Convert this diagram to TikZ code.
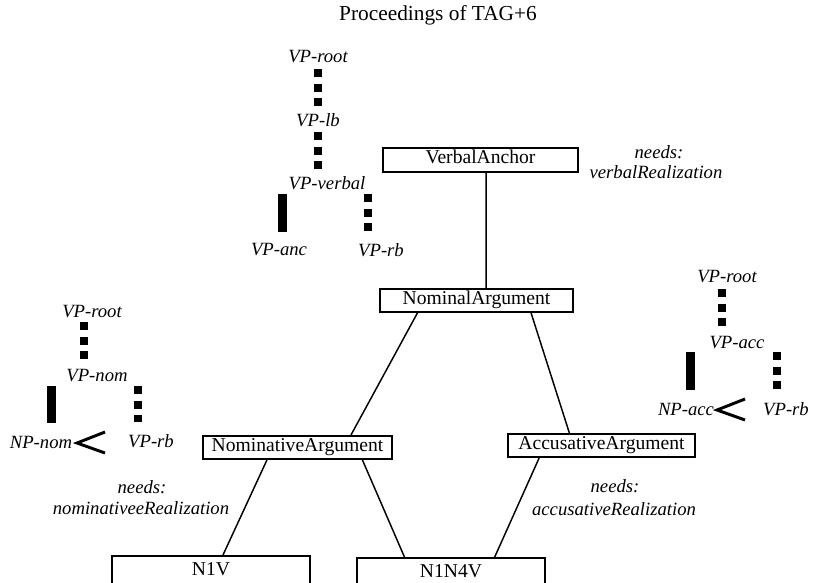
\documentclass[tikz,border=0pt]{standalone}
\usepackage{fontspec}
\setmainfont{Liberation Serif}
\usetikzlibrary{calc}
\begin{document}
\begin{tikzpicture}[x=0.75pt,y=-0.75pt,
  box/.style={draw, line width=1.5pt, inner sep=0pt, text height=9.7pt, text depth=3.2pt,
              font=\fontsize{14.7pt}{16pt}\selectfont},
  lab/.style={inner sep=0pt, font=\fontsize{14pt}{16pt}\selectfont\itshape},
  ttl/.style={inner sep=0pt, font=\fontsize{16pt}{18pt}\selectfont},
  dotl/.style={line width=6pt, dash pattern=on 6pt off 4.9pt},
  barl/.style={line width=6.75pt},
  conn/.style={line width=1.1pt},
  ltsym/.style={line width=2.2pt, line join=miter}]
\useasboundingbox (0,0) rectangle (814,582);
\clip (0,0) rectangle (814,582);
\fill[white] (0,0) rectangle (814,582);

% title
\node[ttl] (title) at (438,15) {Proceedings of TAG+6};

% boxes
\node[box, minimum width=146.25pt, minimum height=18pt] (va) at (480.5,159.5) {VerbalAnchor};
\node[box, minimum width=144.75pt, minimum height=17.25pt] (na) at (476.5,300.5) {NominalArgument};
\node[box, minimum width=141.75pt, minimum height=17.25pt] (nom) at (297.5,447.5) {NominativeArgument};
\node[box, minimum width=140.25pt, minimum height=17.25pt] (acc) at (601.5,445.5) {AccusativeArgument};
\node[box, minimum width=148.5pt, minimum height=22.5pt] (n1v) at (211,571) {N1V};
\node[box, minimum width=141pt, minimum height=22.5pt] (n1n4v) at (451,573) {N1N4V};

% connectors
\draw[conn] ($(va.south west)!0.528!(va.south east)$) -- ($(na.north west)!0.549!(na.north east)$);
\draw[conn] ($(na.south west)!0.197!(na.south east)$) -- ($(nom.north west)!0.78!(nom.north east)$);
\draw[conn] ($(na.south west)!0.78!(na.south east)$) -- ($(acc.north west)!0.33!(acc.north east)$);
\draw[conn] ($(nom.south west)!0.34!(nom.south east)$) -- ($(n1v.north west)!0.56!(n1v.north east)$);
\draw[conn] ($(nom.south west)!0.84!(nom.south east)$) -- ($(n1n4v.north west)!0.255!(n1n4v.north east)$);
\draw[conn] ($(acc.south west)!0.17!(acc.south east)$) -- ($(n1n4v.north west)!0.73!(n1n4v.north east)$);

% needs labels
\node[lab] (vneeds) at (659,152) {needs:};
\node[lab] (vreal) at (656,172) {verbalRealization};
\node[lab] (nneeds) at (142,487) {needs:};
\node[lab] (nreal) at (141,508) {nominativeeRealization};
\node[lab] (aneeds) at (615,486) {needs:};
\node[lab] (areal) at (614,509) {accusativeRealization};

% top tree
\node[lab] (troot) at (318,57) {VP-root};
\node[lab] (tlb) at (318,120) {VP-lb};
\node[lab] (tverbal) at (327,183) {VP-verbal};
\node[lab] (tanc) at (279,250) {VP-anc};
\node[lab] (trb) at (381,250) {VP-rb};
\coordinate (t1a) at (318,69);  \coordinate (t1b) at (318,106);
\coordinate (t2a) at (318,132); \coordinate (t2b) at (318,169);
\coordinate (t3a) at (282,194); \coordinate (t3b) at (282,232);
\coordinate (t4a) at (368,194); \coordinate (t4b) at (368,231);
\draw[dotl] (t1a) -- (t1b);
\draw[dotl] (t2a) -- (t2b);
\draw[barl] (t3a) -- (t3b);
\draw[dotl] (t4a) -- (t4b);

% left tree
\node[lab] (lroot) at (92,312) {VP-root};
\node[lab] (lnom) at (97,376) {VP-nom};
\node[lab] (lnp) at (41,442) {NP-nom};
\node[lab] (lrb) at (151,441) {VP-rb};
\coordinate (l1a) at (84,322);  \coordinate (l1b) at (84,359);
\coordinate (l2a) at (51,386);  \coordinate (l2b) at (51,423);
\coordinate (l3a) at (138,386); \coordinate (l3b) at (138,422);
\draw[dotl] (l1a) -- (l1b);
\draw[barl] (l2a) -- (l2b);
\draw[dotl] (l3a) -- (l3b);
\coordinate (llt1) at (105,432); \coordinate (llt2) at (77,443); \coordinate (llt3) at (105,453);
\draw[ltsym] (llt1) -- (llt2) -- (llt3);

% right tree
\node[lab] (rroot) at (727,277) {VP-root};
\node[lab] (racc) at (737,343) {VP-acc};
\node[lab] (rnp) at (686,409) {NP-acc};
\node[lab] (rrb) at (786,409) {VP-rb};
\coordinate (r1a) at (722,289); \coordinate (r1b) at (722,326);
\coordinate (r2a) at (690,352); \coordinate (r2b) at (690,390);
\coordinate (r3a) at (777,352); \coordinate (r3b) at (777,389);
\draw[dotl] (r1a) -- (r1b);
\draw[barl] (r2a) -- (r2b);
\draw[dotl] (r3a) -- (r3b);
\coordinate (rlt1) at (745,399); \coordinate (rlt2) at (717,410); \coordinate (rlt3) at (745,420);
\draw[ltsym] (rlt1) -- (rlt2) -- (rlt3);
\end{tikzpicture}
\end{document}
